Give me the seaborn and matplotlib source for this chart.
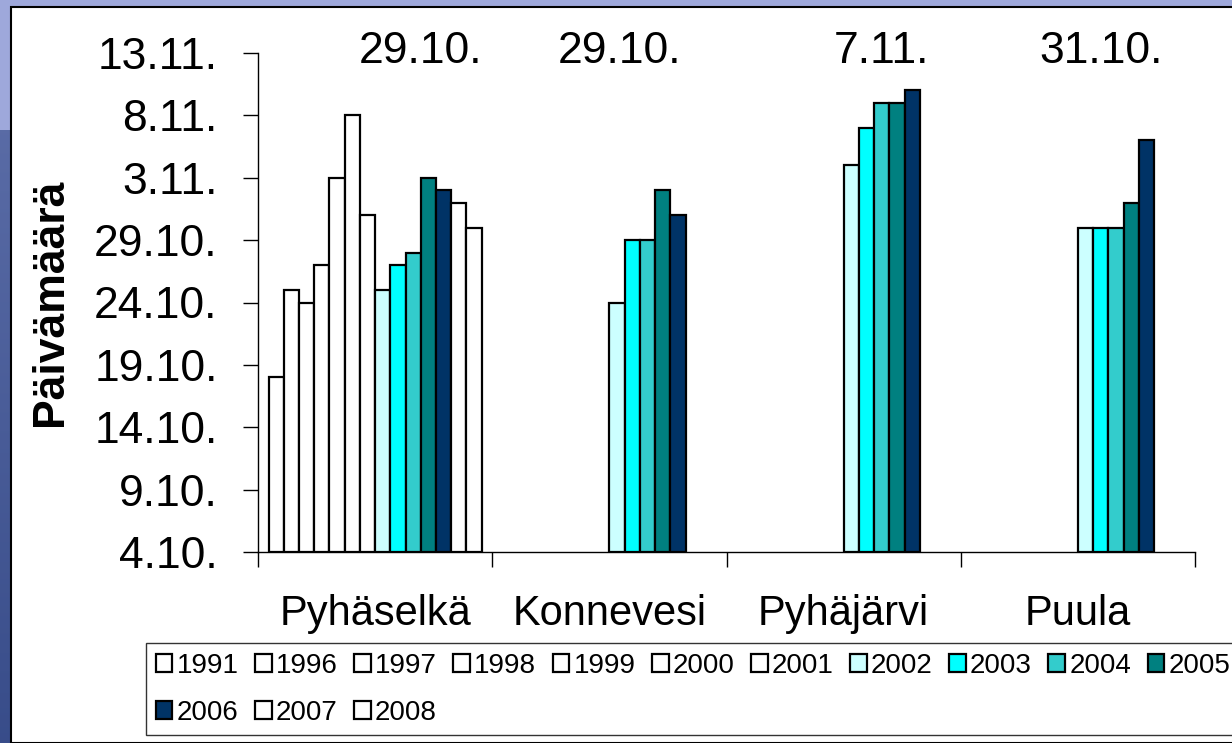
import numpy as np
import pandas as pd
import matplotlib
matplotlib.use("Agg")
import matplotlib.pyplot as plt
from matplotlib.patches import Rectangle
import seaborn as sns

# freezing dates per lake (dd.mm.)
lakes = ['Pyhäselkä', 'Konnevesi', 'Pyhäjärvi', 'Puula']
years = ['1991', '1996', '1997', '1998', '1999', '2000', '2001',
         '2002', '2003', '2004', '2005', '2006', '2007', '2008']
recent_years = ['2002', '2003', '2004', '2005', '2006']

pyhaselka = ['18.10.', '25.10.', '24.10.', '27.10.', '3.11.', '8.11.', '31.10.',
             '25.10.', '27.10.', '28.10.', '3.11.', '2.11.', '1.11.', '30.10.']
konnevesi = ['24.10.', '29.10.', '29.10.', '2.11.', '31.10.']
pyhajarvi = ['4.11.', '7.11.', '9.11.', '9.11.', '10.11.']
puula = ['30.10.', '30.10.', '30.10.', '1.11.', '6.11.']

mean_labels = ['29.10.', '29.10.', '7.11.', '31.10.']
tick_labels = ['4.10.', '9.10.', '14.10.', '19.10.', '24.10.',
               '29.10.', '3.11.', '8.11.', '13.11.']

year_colors = {y: '#FFFFFF' for y in years}
year_colors.update({'2002': '#CCFFFF', '2003': '#00FFFF', '2004': '#33CCCC',
                    '2005': '#008080', '2006': '#003366'})

base = pd.Timestamp('2000-10-04')


def to_days(s):
    return (pd.to_datetime(s + '2000', format='%d.%m.%Y') - base).days


rows = []
for y, d in zip(years, pyhaselka):
    rows.append((lakes[0], y, to_days(d)))
for lake, vals in zip(lakes[1:], [konnevesi, pyhajarvi, puula]):
    for y, d in zip(recent_years, vals):
        rows.append((lake, y, to_days(d)))
df = pd.DataFrame(rows, columns=['lake', 'year', 'days'])

sns.set_theme(style='ticks', rc={'text.color': 'black', 'axes.labelcolor': 'black',
                                 'xtick.color': 'black', 'ytick.color': 'black'})
plt.rcParams['font.family'] = ['Liberation Sans', 'DejaVu Sans']

W, H = 1232, 743
fig = plt.figure(figsize=(W / 100, H / 100), dpi=100)

# slide background strip on the left and top
bg = fig.add_axes([0, 0, 1, 1], zorder=0)
grad = np.ones((H, 1, 3))
top_c = np.array([0.62, 0.66, 0.86])
mid_c = np.array([0.35, 0.42, 0.65])
bot_c = np.array([0.22, 0.30, 0.54])
for i in range(H):
    if i < 130:
        grad[i, 0] = top_c
    else:
        t = (i - 130) / (H - 130)
        grad[i, 0] = mid_c * (1 - t) + bot_c * t
bg.imshow(grad, aspect='auto', extent=[0, 1, 0, 1])
bg.set_axis_off()
bg.add_patch(Rectangle((11 / W, 0), 1, 1 - 7 / H, transform=fig.transFigure,
                       facecolor='white', edgecolor='black', lw=1.5))

ax = fig.add_axes([258 / W, 1 - 552 / H, (1195 - 258) / W, (552 - 53) / H], zorder=2)
ax.set_facecolor('none')

sns.barplot(data=df, x='lake', y='days', hue='year', order=lakes, hue_order=years,
            palette=year_colors, width=0.91, gap=0, edgecolor='black',
            linewidth=1.6, saturation=1, ax=ax, legend=True)

ax.set_xlim(-0.5, 3.5)
ax.set_ylim(0, 40)
ax.set_yticks(np.arange(0, 41, 5))
ax.set_yticklabels(tick_labels, fontsize=32)
ax.tick_params(axis='y', direction='out', length=11, width=1, pad=18, color='black')
ax.set_xticks(range(len(lakes)))
ax.set_xticklabels(lakes, fontsize=30)
ax.set_xticks(np.arange(-0.5, 3.6, 1), minor=True)
ax.tick_params(axis='x', which='major', length=0, pad=30)
ax.tick_params(axis='x', which='minor', direction='out', length=11, width=1, color='black')
ax.set_xlabel('')
ax.set_ylabel('Päivämäärä', fontsize=32, fontweight='bold')
ax.yaxis.set_label_coords(-0.20, 0.5)
for side in ['top', 'right']:
    ax.spines[side].set_visible(False)
for side in ['left', 'bottom']:
    ax.spines[side].set_color('black')
    ax.spines[side].set_linewidth(1)

# mean dates above each group
label_x = [0.194, 1.044, 2.16, 3.10]
for xpos, txt in zip(label_x, mean_labels):
    ax.text(xpos, 1.004, txt, transform=ax.get_xaxis_transform(), ha='center',
            va='center', fontsize=32, color='black', clip_on=False)

handles, labels = ax.get_legend_handles_labels()
ax.get_legend().remove()
order = [0, 11, 1, 12, 2, 13, 3, 4, 5, 6, 7, 8, 9, 10]
leg = fig.legend([handles[i] for i in order], [labels[i] for i in order],
                 loc='upper left', mode='expand',
                 bbox_to_anchor=(146 / W, 1 - 643 / H, (1240 - 146) / W, 0),
                 ncol=11, fontsize=20, frameon=True, fancybox=False,
                 edgecolor='black', handlelength=0.6, handleheight=0.6,
                 handletextpad=0.15, columnspacing=0.42, labelspacing=0.75,
                 borderpad=0.35, borderaxespad=0)
leg.get_frame().set_linewidth(1)
leg.set_zorder(3)
for t in leg.get_texts():
    t.set_color('black')

fig.savefig('out.png', dpi=100)
